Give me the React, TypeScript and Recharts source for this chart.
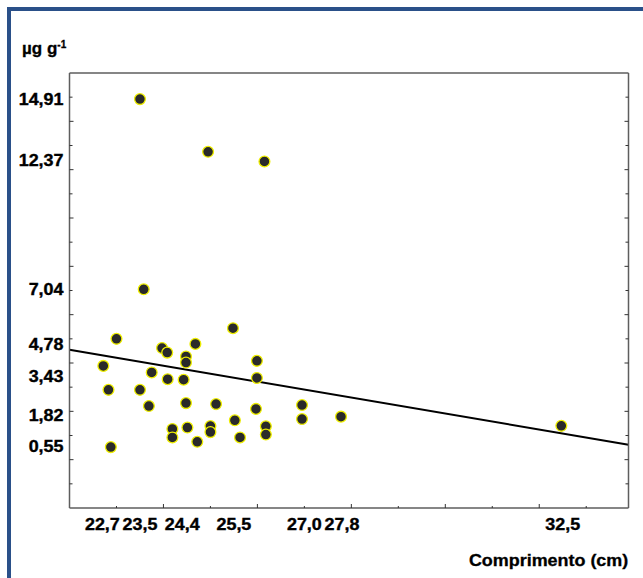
import React from 'react';
import { ScatterChart, Scatter, XAxis, YAxis, ReferenceLine } from 'recharts';

// ---- data ----
const LENGTH_CM = [23.5, 24.95, 26.15, 23.58, 25.48, 23.0, 24.68, 23.97, 24.08, 24.48, 24.48, 25.99, 22.72, 23.75, 24.09, 24.43, 25.99, 22.83, 23.5, 23.69, 24.48, 25.12, 25.97, 26.95, 26.95, 27.78, 25.52, 24.19, 24.19, 24.51, 25.0, 25.0, 24.72, 25.63, 26.18, 26.18, 22.88, 32.47];
const CONC = [14.92, 12.74, 12.34, 7.05, 5.44, 5.0, 4.79, 4.62, 4.43, 4.27, 4.02, 4.09, 3.88, 3.61, 3.33, 3.31, 3.38, 2.89, 2.89, 2.22, 2.34, 2.3, 2.1, 2.26, 1.68, 1.78, 1.63, 1.27, 0.92, 1.33, 1.39, 1.14, 0.74, 0.92, 1.38, 1.04, 0.52, 1.4];

const X_LABELS = [22.7, 23.5, 24.4, 25.5, 27.0, 27.8, 32.5];
const Y_LABELS = [0.55, 1.82, 3.43, 4.78, 7.04, 12.37, 14.91];
const X_MINOR = [23, 24, 25, 26, 27, 28, 29, 30, 31, 32, 33];
const Y_MINOR = [-1, 0, 1, 2, 3, 4, 5, 6, 7, 8, 9, 10, 11, 12, 13, 14, 15];

const TREND_X = [22, 33.9];
const TREND_Y = [4.55, 0.62];

const X_DOMAIN: [number, number] = [22, 33.9];
const Y_DOMAIN: [number, number] = [-2, 16];

const points = LENGTH_CM.map((x, i) => ({ x, y: CONC[i] }));

const X_TICKS = Array.from(new Set([...X_MINOR, ...X_LABELS])).sort((a, b) => a - b);
const Y_TICKS = Array.from(new Set([...Y_MINOR, ...Y_LABELS])).sort((a, b) => a - b);

const FONT = '"Liberation Sans", Arial, sans-serif';
const TICK_COLOR = '#333';
const AXIS_COLOR = '#5e5e5e';

const fmt = (v: number, d: number) => v.toFixed(d).replace('.', ',');

const BottomTick = (props: any) => {
  const { x, y, payload } = props;
  const v = payload.value;
  const isMinor = X_MINOR.includes(v);
  const isLabel = X_LABELS.includes(v);
  const len = Math.round(v) % 2 === 0 ? 4 : 2;
  return (
    <g>
      {isMinor && <line x1={x} x2={x} y1={y} y2={y - len} stroke={TICK_COLOR} strokeWidth={1} />}
      {isLabel && (
        <text
          transform={`translate(${x},${y + 22}) scale(1.12,1)`}
          textAnchor="middle"
          fontFamily={FONT}
          fontWeight="bold"
          fontSize={16}
          fill="#000"
          stroke="#000"
          strokeWidth={0.35}
        >
          {fmt(v, 1)}
        </text>
      )}
    </g>
  );
};

const TopTick = (props: any) => {
  const { x, y, payload } = props;
  const v = payload.value;
  const len = Math.round(v) % 2 === 0 ? 4 : 2;
  return <line x1={x} x2={x} y1={y} y2={y + len} stroke={TICK_COLOR} strokeWidth={1} />;
};

const LeftTick = (props: any) => {
  const { x, y, payload } = props;
  const v = payload.value;
  const isMinor = Y_MINOR.includes(v);
  const isLabel = Y_LABELS.includes(v);
  const len = Math.round(v) % 2 === 0 ? 4 : 3;
  return (
    <g>
      {isMinor && <line x1={x} x2={x + len} y1={y} y2={y} stroke={TICK_COLOR} strokeWidth={1} />}
      {isLabel && (
        <text
          transform={`translate(${x - 6},${y + 5.7}) scale(1.12,1)`}
          textAnchor="end"
          fontFamily={FONT}
          fontWeight="bold"
          fontSize={16}
          fill="#000"
          stroke="#000"
          strokeWidth={0.35}
        >
          {fmt(v, 2)}
        </text>
      )}
    </g>
  );
};

const RightTick = (props: any) => {
  const { x, y, payload } = props;
  const v = payload.value;
  const len = Math.round(v) % 2 === 0 ? 4 : 3;
  return <line x1={x} x2={x - len} y1={y} y2={y} stroke={TICK_COLOR} strokeWidth={1} />;
};

const Dot = (props: any) => {
  const { cx, cy } = props;
  if (cx == null || cy == null) return null;
  return <circle cx={cx} cy={cy} r={5.4} fill="#2a2a2a" stroke="#eeee00" strokeWidth={1.3} />;
};

export default function App() {
  return (
    <div style={{ position: 'absolute', left: 0, top: 0, width: 643, height: 578, overflow: 'hidden', background: '#fff' }}>
      <div
        style={{
          position: 'absolute',
          left: 7,
          top: 7,
          width: 800,
          height: 800,
          borderTop: '4px solid #2a5089',
          borderLeft: '4px solid #2a5089',
        }}
      />
      <div style={{ position: 'absolute', left: 0, top: 0 }}>
        <ScatterChart width={643} height={578} margin={{ top: 63, right: 4.5, bottom: 40, left: 39.5 }}>
          <XAxis
            dataKey="x"
            type="number"
            domain={X_DOMAIN}
            allowDataOverflow
            ticks={X_TICKS}
            interval={0}
            height={30}
            tickSize={0}
            tickMargin={0}
            tick={BottomTick}
            tickLine={false}
            axisLine={{ stroke: AXIS_COLOR, strokeWidth: 1.5 }}
          />
          <XAxis
            xAxisId="top"
            orientation="top"
            type="number"
            domain={X_DOMAIN}
            allowDataOverflow
            ticks={X_MINOR}
            interval={0}
            height={10}
            tickSize={0}
            tickMargin={0}
            tick={TopTick}
            tickLine={false}
            axisLine={{ stroke: AXIS_COLOR, strokeWidth: 1.5 }}
          />
          <YAxis
            dataKey="y"
            type="number"
            domain={Y_DOMAIN}
            allowDataOverflow
            ticks={Y_TICKS}
            interval={0}
            width={30}
            tickSize={0}
            tickMargin={0}
            tick={LeftTick}
            tickLine={false}
            axisLine={{ stroke: AXIS_COLOR, strokeWidth: 1.5 }}
          />
          <YAxis
            yAxisId="right"
            orientation="right"
            type="number"
            domain={Y_DOMAIN}
            allowDataOverflow
            ticks={Y_MINOR}
            interval={0}
            width={10}
            tickSize={0}
            tickMargin={0}
            tick={RightTick}
            tickLine={false}
            axisLine={{ stroke: AXIS_COLOR, strokeWidth: 1.5 }}
          />
          <ReferenceLine
            segment={[
              { x: TREND_X[0], y: TREND_Y[0] },
              { x: TREND_X[1], y: TREND_Y[1] },
            ]}
            stroke="#000"
            strokeWidth={2}
            ifOverflow="visible"
          />
          <Scatter data={points} shape={Dot} isAnimationActive={false} />
        </ScatterChart>
      </div>
      <div
        style={{
          position: 'absolute',
          left: 22,
          top: 39,
          fontFamily: FONT,
          fontWeight: 'bold',
          fontSize: 17,
          lineHeight: '20px',
          color: '#000',
          whiteSpace: 'nowrap',
          WebkitTextStroke: '0.3px #000',
        }}
      >
        µg g<sup style={{ fontSize: 10, verticalAlign: 'top', position: 'relative', top: -4 }}>-1</sup>
      </div>
      <div
        style={{
          position: 'absolute',
          right: 15,
          top: 551,
          fontFamily: FONT,
          fontWeight: 'bold',
          fontSize: 16,
          lineHeight: '20px',
          color: '#000',
          whiteSpace: 'nowrap',
          transform: 'scaleX(1.12)',
          transformOrigin: 'right center',
          WebkitTextStroke: '0.3px #000',
        }}
      >
        Comprimento (cm)
      </div>
    </div>
  );
}
